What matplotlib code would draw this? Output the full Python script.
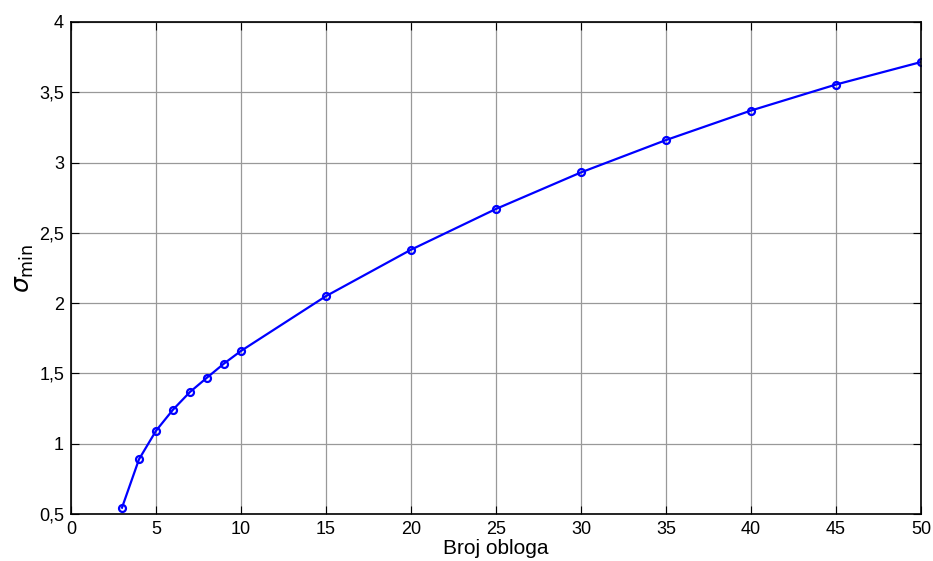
import matplotlib
matplotlib.use('Agg')
import matplotlib.pyplot as plt
from matplotlib.ticker import FuncFormatter

plt.rcParams['font.family'] = ['Liberation Sans', 'DejaVu Sans']

broj_obloga = [3, 4, 5, 6, 7, 8, 9, 10, 15, 20, 25, 30, 35, 40, 45, 50]
sigma_min = [0.545, 0.889, 1.092, 1.242, 1.368, 1.47, 1.57, 1.66, 2.05, 2.38,
             2.67, 2.93, 3.16, 3.37, 3.555, 3.715]

x_ticks = [0, 5, 10, 15, 20, 25, 30, 35, 40, 45, 50]
y_ticks = [0.5, 1, 1.5, 2, 2.5, 3, 3.5, 4]

fig = plt.figure(figsize=(9.33, 5.61), dpi=100)
ax = fig.add_axes([0.0761, 0.0838, 0.9110, 0.877])

ax.plot(broj_obloga, sigma_min, color='#0000ff', lw=1.6, marker='o', ms=5,
        mfc='none', mec='#0000ff', mew=1.6)

ax.set_xlim(0, 50)
ax.set_ylim(0.5, 4)
ax.set_xticks(x_ticks)
ax.set_yticks(y_ticks)
ax.yaxis.set_major_formatter(FuncFormatter(lambda v, p: ('%g' % v).replace('.', ',')))
ax.grid(True, color='#999999', lw=0.9)
ax.tick_params(direction='in', length=6, labelsize=13, top=True, right=True, pad=5)
for s in ax.spines.values():
    s.set_linewidth(1.2)

ax.set_xlabel('Broj obloga', fontsize=15, labelpad=1)
ax.set_ylabel(r'$\sigma_{\mathrm{min}}$', fontsize=18, labelpad=2)

plt.savefig('out.png', dpi=100)
